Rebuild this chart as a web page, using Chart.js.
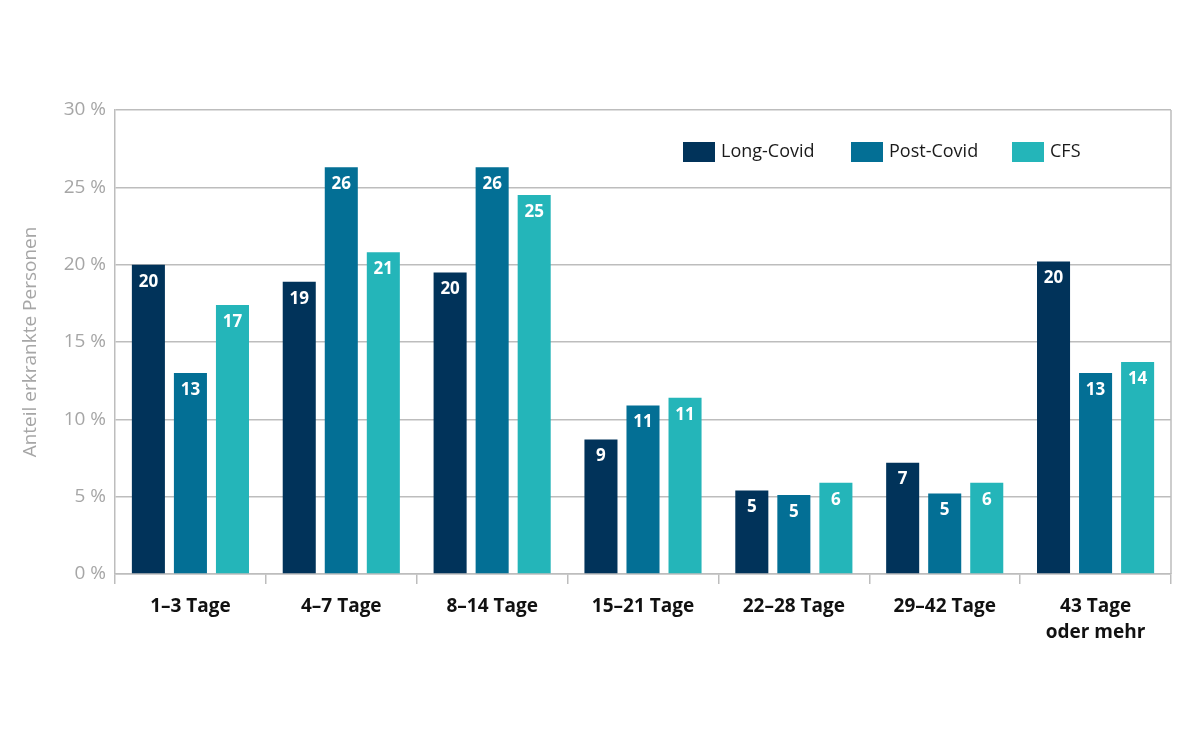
<!DOCTYPE html>
<html>
<head>
<meta charset="utf-8">
<script src="https://cdn.jsdelivr.net/npm/chart.js@4.4.1/dist/chart.umd.min.js"></script>
<style>
html,body{margin:0;padding:0;background:#fff;}
#wrap{width:1200px;height:750px;}
</style>
</head>
<body>
<div id="wrap"><canvas id="c" width="1200" height="750"></canvas></div>
<script>
const categories = ['1–3 Tage', '4–7 Tage', '8–14 Tage', '15–21 Tage', '22–28 Tage', '29–42 Tage', ['43 Tage', 'oder mehr']];
const seriesNames = ['Long-Covid', 'Post-Covid', 'CFS'];
const longCovid = [20.0, 18.9, 19.5, 8.7, 5.4, 7.2, 20.2];
const postCovid = [13.0, 26.3, 26.3, 10.9, 5.1, 5.2, 13.0];
const cfs = [17.4, 20.8, 24.5, 11.4, 5.9, 5.9, 13.7];
const yTicks = [0, 5, 10, 15, 20, 25, 30];
const colors = ['#01335a', '#036f95', '#24b5b9'];

const FONT = "'Open Sans', 'Noto Sans', sans-serif";

const valueLabels = {
  id: 'valueLabels',
  afterDatasetsDraw(chart) {
    const ctx = chart.ctx;
    ctx.save();
    ctx.fillStyle = '#ffffff';
    ctx.font = 'bold 17px ' + FONT;
    ctx.textAlign = 'center';
    ctx.textBaseline = 'middle';
    chart.data.datasets.forEach((ds, i) => {
      const meta = chart.getDatasetMeta(i);
      meta.data.forEach((bar, j) => {
        ctx.fillText(String(Math.round(ds.data[j])), bar.x, bar.y + 17);
      });
    });
    ctx.restore();
  }
};

const customLegend = {
  id: 'customLegend',
  afterDraw(chart) {
    const ctx = chart.ctx;
    const xs = [683, 851, 1012];
    const y = 142;
    ctx.save();
    ctx.font = '18px ' + FONT;
    ctx.textBaseline = 'middle';
    ctx.textAlign = 'left';
    chart.data.datasets.forEach((ds, i) => {
      ctx.fillStyle = ds.backgroundColor;
      ctx.fillRect(xs[i], y, 32, 20);
      ctx.fillStyle = '#1a1a1a';
      ctx.fillText(ds.label, xs[i] + 38, y + 10);
    });
    ctx.restore();
  }
};

const frame = {
  id: 'frame',
  beforeDatasetsDraw(chart) {
    const a = chart.chartArea;
    const ctx = chart.ctx;
    ctx.save();
    ctx.strokeStyle = '#bdbdbd';
    ctx.lineWidth = 1.5;
    ctx.beginPath();
    ctx.moveTo(a.right, a.top);
    ctx.lineTo(a.right, a.bottom);
    ctx.stroke();
    ctx.restore();
  }
};

new Chart(document.getElementById('c'), {
  type: 'bar',
  data: {
    labels: categories,
    datasets: [
      { label: seriesNames[0], data: longCovid, backgroundColor: colors[0] },
      { label: seriesNames[1], data: postCovid, backgroundColor: colors[1] },
      { label: seriesNames[2], data: cfs, backgroundColor: colors[2] }
    ]
  },
  options: {
    responsive: false,
    animation: false,
    devicePixelRatio: 1,
    layout: { padding: { top: 110, right: 29, left: 0, bottom: 0 } },
    datasets: { bar: { categoryPercentage: 0.836, barPercentage: 0.786 } },
    plugins: { legend: { display: false }, tooltip: { enabled: false } },
    scales: {
      x: {
        afterFit(s) { s.height = 176; },
        grid: { offset: true, drawOnChartArea: false, drawTicks: true, tickLength: 10, color: '#bdbdbd', lineWidth: 1.5 },
        border: { color: '#bdbdbd', width: 1.5 },
        ticks: { color: '#111111', font: { family: FONT, size: 19, weight: 'bold', lineHeight: 1.4 }, padding: 9, maxRotation: 0, autoSkip: false }
      },
      y: {
        min: 0, max: 30,
        afterFit(s) { s.width = 115; },
        afterBuildTicks(s) { s.ticks = yTicks.map(v => ({ value: v })); },
        grid: { color: '#bdbdbd', lineWidth: 1.5, drawTicks: false },
        border: { color: '#bdbdbd', width: 1.5 },
        ticks: { color: '#a6a6a6', font: { family: FONT, size: 19 }, padding: 9, callback: v => v + ' %' },
        title: { display: true, text: 'Anteil erkrankte Personen', color: '#a6a6a6', font: { family: FONT, size: 19 }, padding: { top: 19, bottom: 0 } }
      }
    }
  },
  plugins: [frame, valueLabels, customLegend]
});
</script>
</body>
</html>
